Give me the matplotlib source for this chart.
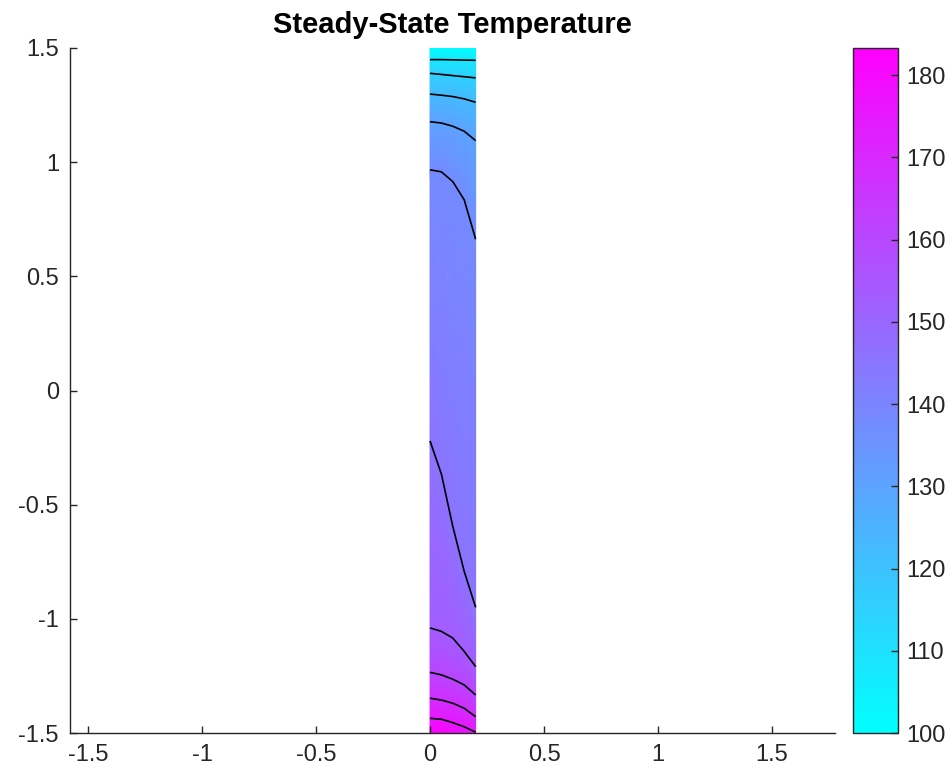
import numpy as np
import matplotlib
matplotlib.use("Agg")
import matplotlib.pyplot as plt
import matplotlib.tri as mtri

plt.rcParams['font.family'] = ['Liberation Sans', 'DejaVu Sans']

# ---------------------------------------------------------
# Data
# ---------------------------------------------------------

# strip x positions where the isotherms were read
x_nodes = [0.0, 0.05, 0.1, 0.15, 0.2]

T_MIN = 100.0
T_MAX = 183.3

# the 10 contour levels (evenly spaced between min and max)
levels = [107.6, 115.2, 122.7, 130.3, 137.9, 145.4, 153.0, 160.6, 168.2, 175.7]

# y of each isotherm at every x node (top -> bottom)
iso_1 = [1.449, 1.449, 1.448, 1.447, 1.446]
iso_2 = [1.389, 1.384, 1.379, 1.374, 1.369]
iso_3 = [1.298, 1.293, 1.287, 1.277, 1.262]
iso_4 = [1.177, 1.171, 1.157, 1.135, 1.094]
iso_5 = [0.966, 0.957, 0.914, 0.834, 0.662]
iso_6 = [-0.224, -0.370, -0.600, -0.797, -0.954]
iso_7 = [-1.042, -1.057, -1.086, -1.144, -1.210]
iso_8 = [-1.235, -1.246, -1.265, -1.290, -1.334]
iso_9 = [-1.348, -1.356, -1.370, -1.392, -1.429]
iso_10 = [-1.436, -1.440, -1.455, -1.473, -1.497]

# boundary temperatures
top_temp = [100.0, 100.0, 100.0, 100.0, 100.0]      # y = 1.5
bottom_temp = [183.3, 182.0, 180.0, 178.0, 176.0]   # y = -1.5

# ---------------------------------------------------------
# Build a mesh from the isotherm rows
# ---------------------------------------------------------

rows_y = [[1.5] * len(x_nodes), iso_1, iso_2, iso_3, iso_4, iso_5,
          iso_6, iso_7, iso_8, iso_9, iso_10, [-1.5] * len(x_nodes)]
rows_t = [top_temp] + [[lv] * len(x_nodes) for lv in levels] + [bottom_temp]

Y = np.array(rows_y)
T = np.array(rows_t)
X = np.tile(x_nodes, (Y.shape[0], 1))

nr, nc = Y.shape
tris = []
for i in range(nr - 1):
    for j in range(nc - 1):
        a = i * nc + j
        b = a + 1
        c = a + nc
        d = c + 1
        tris.append([a, b, d])
        tris.append([a, d, c])

tri = mtri.Triangulation(X.ravel(), Y.ravel(), np.array(tris))

# ---------------------------------------------------------
# Plot
# ---------------------------------------------------------

fig = plt.figure(figsize=(9.52, 7.76), dpi=100)
ax = fig.add_axes([70 / 952, 43 / 776, 765 / 952, 685 / 776])

pc = ax.tripcolor(tri, T.ravel(), cmap="cool", shading="gouraud",
                  vmin=T_MIN, vmax=T_MAX)
# contours drawn a hair below each level so they sit on the isotherm rows
ax.tricontour(tri, T.ravel(), levels=np.array(levels) - 0.02,
              colors="black", linewidths=1.2)

ax.set_xlim(-1.579, 1.776)
ax.set_ylim(-1.5, 1.5)
ax.set_aspect("auto")

ticks = [-1.5, -1, -0.5, 0, 0.5, 1, 1.5]
tick_labels = ["-1.5", "-1", "-0.5", "0", "0.5", "1", "1.5"]
ax.set_xticks(ticks)
ax.set_xticklabels(tick_labels)
ax.set_yticks(ticks)
ax.set_yticklabels(tick_labels)

gray = "#262626"
for s in ["top", "right"]:
    ax.spines[s].set_visible(False)
for s in ["left", "bottom"]:
    ax.spines[s].set_color(gray)
    ax.spines[s].set_linewidth(1.0)
ax.tick_params(direction="in", length=5, width=1.0, colors=gray,
               labelsize=17, pad=8)

ax.set_title("Steady-State Temperature", fontsize=21, fontweight="bold",
             color="black", pad=11)

# colorbar
cax = fig.add_axes([853 / 952, 43 / 776, 45 / 952, 685 / 776])
cb = fig.colorbar(pc, cax=cax, ticks=list(range(100, 181, 10)))
cb.outline.set_edgecolor(gray)
cb.outline.set_linewidth(1.0)
cax.tick_params(direction="in", length=5, width=1.0, colors=gray,
                labelsize=17, pad=6)

fig.savefig("out.png", dpi=100)
